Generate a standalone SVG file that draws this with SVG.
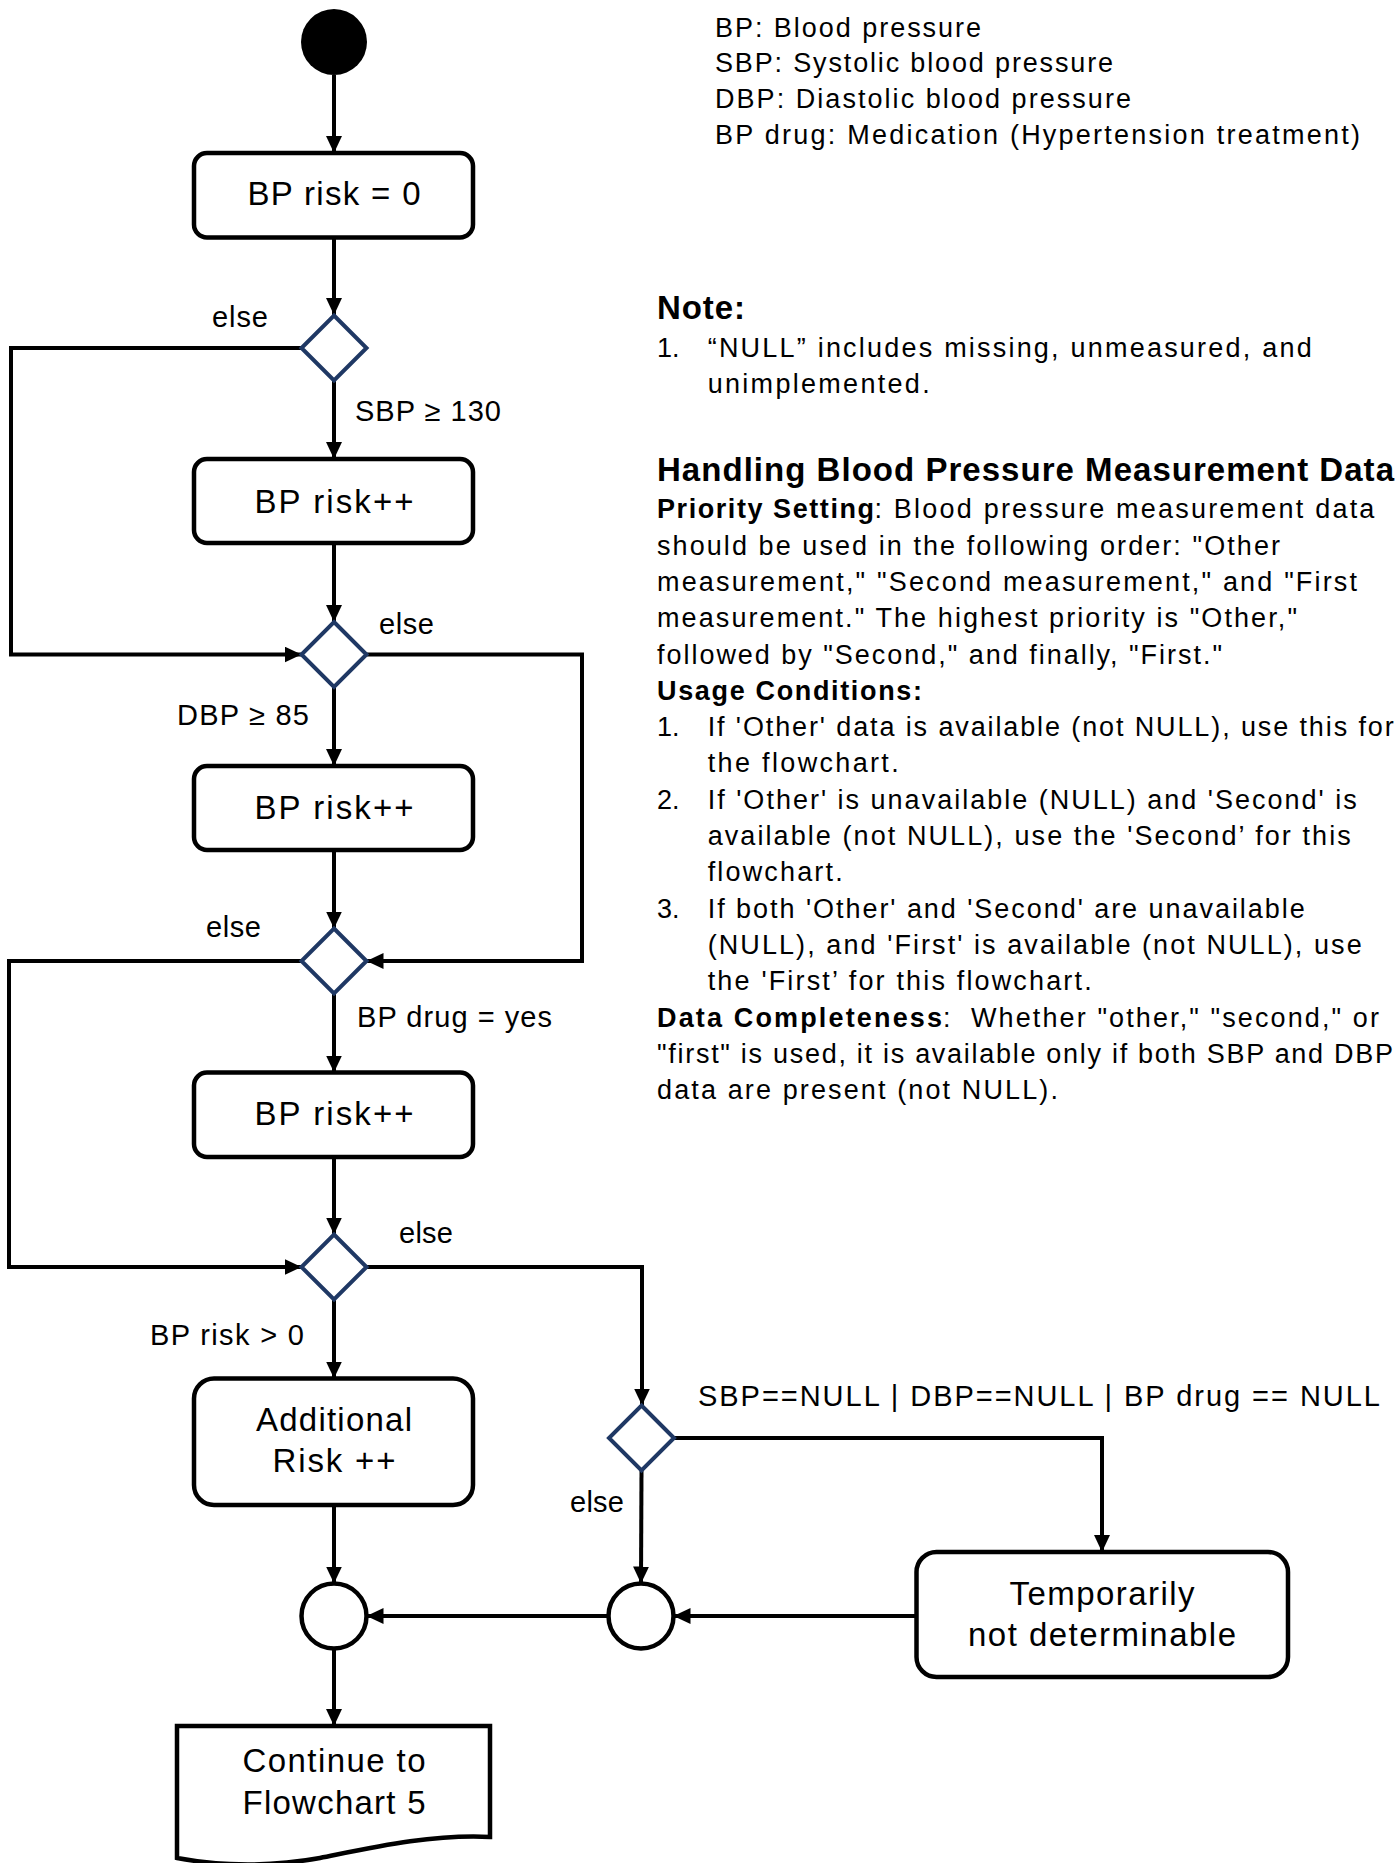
<svg xmlns="http://www.w3.org/2000/svg" width="1398" height="1863" viewBox="0 0 1398 1863">
<style>
text{font-family:'Liberation Sans',Arial,sans-serif;fill:#000}
.bx{font-size:33px;text-anchor:middle}
.lb{font-size:29px}
.bd{font-size:27px}
.bb{font-size:27px;font-weight:bold}
.hd{font-size:33px;font-weight:bold}
.box{fill:#fff;stroke:#000;stroke-width:4.5}
.dia{fill:#fff;stroke:#1F3864;stroke-width:4}
.cir{fill:#fff;stroke:#000;stroke-width:4.5}
.ln{fill:none;stroke:#000;stroke-width:4;marker-end:url(#ah)}
</style>
<defs>
<marker id="ah" markerUnits="userSpaceOnUse" markerWidth="17" markerHeight="16" refX="17" refY="8" orient="auto">
<path d="M0,0 L17,8 L0,16 Z" fill="#000"/>
</marker>
</defs>
<rect width="1398" height="1863" fill="#fff"/>

<g id="connectors">
<path class="ln" d="M334,75 V153"/>
<path class="ln" d="M334,237.5 V315"/>
<path class="ln" d="M334,380.5 V459"/>
<path class="ln" d="M301.5,348 H11 V654.5 H301.5"/>
<path class="ln" d="M334,543 V622"/>
<path class="ln" d="M366.5,654.5 H582 V961 H366.5"/>
<path class="ln" d="M334,687 V766"/>
<path class="ln" d="M334,850 V928.5"/>
<path class="ln" d="M301.5,961 H9 V1267 H301.5"/>
<path class="ln" d="M334,993.5 V1072.5"/>
<path class="ln" d="M334,1157 V1234.5"/>
<path class="ln" d="M366.5,1267 H642 V1405.5"/>
<path class="ln" d="M334,1299.5 V1378.5"/>
<path class="ln" d="M334,1505 V1583.5"/>
<path class="ln" d="M674,1438 H1102 V1552"/>
<path class="ln" d="M641.5,1470.5 L641,1583.5"/>
<path class="ln" d="M916.5,1616 H673.5"/>
<path class="ln" d="M608.5,1616 H366.5"/>
<path class="ln" d="M334,1648.5 V1726"/>
<text class="lb" x="212" y="327" textLength="56">else</text>
<text class="lb" x="355" y="421" textLength="146">SBP ≥ 130</text>
<text class="lb" x="379" y="634" textLength="55">else</text>
<text class="lb" x="177" y="725" textLength="132">DBP ≥ 85</text>
<text class="lb" x="206" y="937" textLength="55">else</text>
<text class="lb" x="357" y="1026.5" textLength="195">BP drug = yes</text>
<text class="lb" x="399" y="1243" textLength="54">else</text>
<text class="lb" x="150" y="1345" textLength="154">BP risk &gt; 0</text>
<text class="lb" x="698" y="1405.5" textLength="682">SBP==NULL | DBP==NULL | BP drug == NULL</text>
<text class="lb" x="570" y="1512" textLength="54">else</text>
</g>

<g id="start"><circle cx="334" cy="42" r="33" fill="#000"/></g>

<g id="box1"><rect class="box" x="194" y="153" width="279" height="84.5" rx="13"/>
<text class="bx" x="334" y="205" textLength="173">BP risk = 0</text></g>

<g id="d1"><path class="dia" d="M334,315.5 L366.5,348 L334,380.5 L301.5,348 Z"/></g>

<g id="box2"><rect class="box" x="194" y="459" width="279" height="84" rx="13"/>
<text class="bx" x="334" y="512.5" textLength="159">BP risk++</text></g>

<g id="d2"><path class="dia" d="M334,622 L366.5,654.5 L334,687 L301.5,654.5 Z"/></g>

<g id="box3"><rect class="box" x="194" y="766" width="279" height="84" rx="13"/>
<text class="bx" x="334" y="818.5" textLength="159">BP risk++</text></g>

<g id="d3"><path class="dia" d="M334,928.5 L366.5,961 L334,993.5 L301.5,961 Z"/></g>

<g id="box4"><rect class="box" x="194" y="1072.5" width="279" height="84.5" rx="13"/>
<text class="bx" x="334" y="1125" textLength="159">BP risk++</text></g>

<g id="d4"><path class="dia" d="M334,1234.5 L366.5,1267 L334,1299.5 L301.5,1267 Z"/></g>

<g id="d5"><path class="dia" d="M641.5,1405.5 L674,1438 L641.5,1470.5 L609,1438 Z"/></g>

<g id="box5"><rect class="box" x="194" y="1378.5" width="279" height="126.5" rx="20"/>
<text class="bx" x="334" y="1431" textLength="156">Additional</text>
<text class="bx" x="334" y="1471.5" textLength="123">Risk ++</text></g>

<g id="temp"><rect class="box" x="916.5" y="1552" width="371.5" height="125" rx="20"/>
<text class="bx" x="1102" y="1605" textLength="185">Temporarily</text>
<text class="bx" x="1102" y="1645.5" textLength="268">not determinable</text></g>

<g id="merge1"><circle class="cir" cx="334" cy="1616" r="32.5"/></g>
<g id="merge2"><circle class="cir" cx="641" cy="1616" r="32.5"/></g>

<g id="doc"><path class="box" d="M177,1726 H490 V1837 C430,1834 370,1848 320,1858 C270,1867 220,1866 177,1858 Z"/>
<text class="bx" x="334" y="1771.5" textLength="183">Continue to</text>
<text class="bx" x="334" y="1814" textLength="183">Flowchart 5</text></g>

<g id="legend">
<text class="bd" x="715" y="36.5" textLength="266">BP: Blood pressure</text>
<text class="bd" x="715" y="72" textLength="398">SBP: Systolic blood pressure</text>
<text class="bd" x="715" y="107.5" textLength="416">DBP: Diastolic blood pressure</text>
<text class="bd" x="715" y="143.5" textLength="645">BP drug: Medication (Hypertension treatment)</text>
</g>

<g id="note">
<text class="hd" x="657" y="319" textLength="88">Note:</text>
<text class="bd" x="657" y="357">1.</text>
<text class="bd" x="707.7" y="357" textLength="604">“NULL” includes missing, unmeasured, and</text>
<text class="bd" x="707.7" y="392.5" textLength="222">unimplemented.</text>
</g>

<g id="handling">
<text class="hd" x="657" y="481" textLength="737">Handling Blood Pressure Measurement Data</text>
<text class="bb" x="657" y="518" textLength="217">Priority Setting</text>
<text class="bd" x="874.4" y="518" textLength="500">: Blood pressure measurement data</text>
<text class="bd" x="657" y="554.5" textLength="623">should be used in the following order: "Other</text>
<text class="bd" x="657" y="590.8" textLength="700">measurement," "Second measurement," and "First</text>
<text class="bd" x="657" y="627" textLength="640">measurement." The highest priority is "Other,"</text>
<text class="bd" x="657" y="663.5" textLength="565">followed by "Second," and finally, "First."</text>
<text class="bb" x="657" y="699.8" textLength="265">Usage Conditions:</text>
<text class="bd" x="657" y="736">1.</text>
<text class="bd" x="707.7" y="736" textLength="686">If 'Other' data is available (not NULL), use this for</text>
<text class="bd" x="707.7" y="772.4" textLength="191">the flowchart.</text>
<text class="bd" x="657" y="808.7">2.</text>
<text class="bd" x="707.7" y="808.7" textLength="649">If 'Other' is unavailable (NULL) and 'Second' is</text>
<text class="bd" x="707.7" y="845" textLength="643">available (not NULL), use the 'Second’ for this</text>
<text class="bd" x="707.7" y="881.3" textLength="135">flowchart.</text>
<text class="bd" x="657" y="917.6">3.</text>
<text class="bd" x="707.7" y="917.6" textLength="597">If both 'Other' and 'Second' are unavailable</text>
<text class="bd" x="707.7" y="954" textLength="654">(NULL), and 'First' is available (not NULL), use</text>
<text class="bd" x="707.7" y="990" textLength="384">the 'First’ for this flowchart.</text>
<text class="bb" x="657" y="1026.6" textLength="285">Data Completeness</text>
<text class="bd" x="943" y="1026.6">:</text>
<text class="bd" x="971" y="1026.6" textLength="408">Whether "other," "second," or</text>
<text class="bd" x="657" y="1063" textLength="736">"first" is used, it is available only if both SBP and DBP</text>
<text class="bd" x="657" y="1099" textLength="401">data are present (not NULL).</text>
</g>
</svg>
